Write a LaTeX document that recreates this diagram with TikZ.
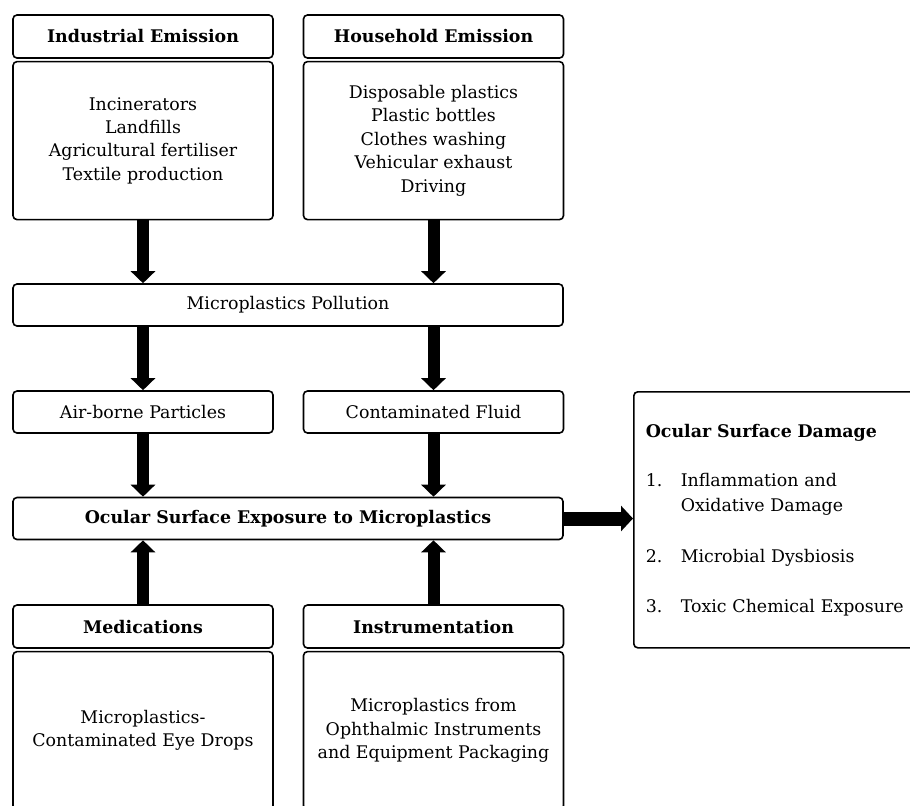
\documentclass[tikz,border=0pt]{standalone}
\usepackage{fontspec}
\setmainfont{DejaVu Serif}
\usetikzlibrary{arrows.meta, positioning}

\newcommand{\txt}{\fontsize{8.7}{11.7}\selectfont}

\begin{document}
\begin{tikzpicture}[x=0.5pt,y=-0.5pt,node distance=1pt,
        every node/.style={font=\txt},
        box/.style={draw,line width=0.8pt,rounded corners=2pt,minimum width=130pt,inner sep=2pt},
        head/.style={box,minimum height=21.5pt,font=\txt\bfseries},
        body/.style={box,minimum height=79pt,align=center},
        bar/.style={box,minimum width=275pt,minimum height=21pt},
        fat/.style={line width=6pt,-{Triangle[length=6pt,width=12pt]}}]

    \useasboundingbox (0,0) rectangle (910,805);
    \clip (0,0) rectangle (910,805);

    \node[head] (ind) at (143,36.5) {Industrial Emission};
    \node[body,below=of ind] (indb) {Incinerators\\Landfills\\Agricultural fertiliser\\Textile production};
    \node[head] (hh) at (433.5,36.5) {Household Emission};
    \node[body,below=of hh] (hhb) {Disposable plastics\\Plastic bottles\\Clothes washing\\Vehicular exhaust\\Driving};

    \node[bar] (poll) at (288,305) {Microplastics Pollution};
    \node[box,minimum height=21pt] (air) at (143,412) {Air-borne Particles};
    \node[box,minimum height=21pt] (fluid) at (433.5,412) {Contaminated Fluid};
    \node[bar,font=\txt\bfseries] (exp) at (288,518.5) {Ocular Surface Exposure to Microplastics};

    \node[head] (med) at (143,626.5) {Medications};
    \node[body,below=of med] (medb) {Microplastics-\\Contaminated Eye Drops};
    \node[head] (ins) at (433.5,626.5) {Instrumentation};
    \node[body,below=of ins] (insb) {Microplastics from\\Ophthalmic Instruments\\and Equipment Packaging};

    \node[box,anchor=north west,minimum width=150pt,minimum height=128pt,
          text width=138pt,inner xsep=6pt,align=left,font=\fontsize{8.7}{12.5}\selectfont] (dmg) at (633,391)
        {\textbf{Ocular Surface Damage}\\[12pt]
         \makebox[17.5pt][l]{1.}Inflammation and\\
         \hspace*{17.5pt}Oxidative Damage\\[13pt]
         \makebox[17.5pt][l]{2.}Microbial Dysbiosis\\[12.5pt]
         \makebox[17.5pt][l]{3.}Toxic Chemical Exposure};

    \draw[fat] (indb.south) -- (indb.south |- poll.north);
    \draw[fat] (hhb.south) -- (hhb.south |- poll.north);
    \draw[fat] (poll.south -| air) -- (air.north);
    \draw[fat] (poll.south -| fluid) -- (fluid.north);
    \draw[fat] (air.south) -- (air.south |- exp.north);
    \draw[fat] (fluid.south) -- (fluid.south |- exp.north);
    \draw[fat] (med.north) -- (med.north |- exp.south);
    \draw[fat] (ins.north) -- (ins.north |- exp.south);
    \draw[line width=7pt,-{Triangle[length=6pt,width=12.5pt]}] (exp.east) -- (exp.east -| dmg.west);
\end{tikzpicture}
\end{document}
